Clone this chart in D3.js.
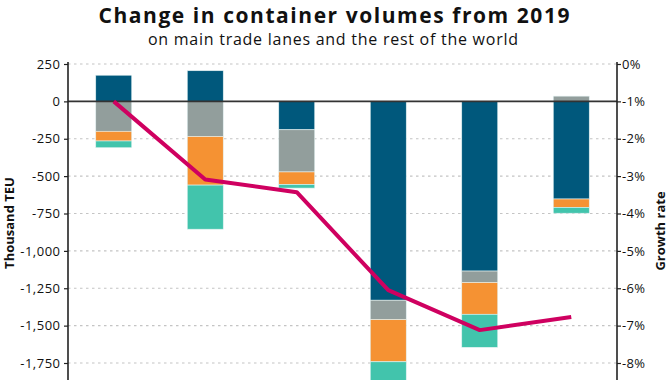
<!DOCTYPE html>
<html>
<head>
<meta charset="utf-8">
<script src="https://cdn.jsdelivr.net/npm/d3@7"></script>
<style>
  html, body { margin: 0; padding: 0; background: #fff; }
  svg { display: block; font-family: "Open Sans", sans-serif; }
</style>
</head>
<body>
<svg id="chart" width="670" height="380"></svg>
<script>
// ---- data ----
const categories = ["P1", "P2", "P3", "P4", "P5", "P6"];
const seriesNames = ["Rest of world", "Transpacific", "Asia-Europe", "Transatlantic"];
const seriesColors = ["#00587c", "#929e9c", "#f59233", "#42c4ac"];
const restOfWorld  = [175, 205, -190, -1330, -1135, -653];
const transpacific = [-200, -235, -282, -130, -77, 35];
const asiaEurope   = [-65, -325, -84, -282, -212, -56];
const transatlantic= [-45, -295, -24, -230, -221, -39];
const growthRate   = [-1.0, -3.09, -3.43, -6.05, -7.12, -6.77];
const leftTicks  = [250, 0, -250, -500, -750, -1000, -1250, -1500, -1750];
const leftTickLabels = ["250", "0", "-250", "-500", "-750", "-1,000", "-1,250", "-1,500", "-1,750"];
const rightTicks = [0, -1, -2, -3, -4, -5, -6, -7, -8];
const rightTickLabels = ["0%", "-1%", "-2%", "-3%", "-4%", "-5%", "-6%", "-7%", "-8%"];
const titleText = "Change in container volumes from 2019";
const subtitleText = "on main trade lanes and the rest of the world";
const leftAxisTitle = "Thousand TEU";
const rightAxisTitle = "Growth rate";

// ---- build ----
const svg = d3.select("#chart");
const plotLeft = 68, plotRight = 617, plotTop = 64, plotRef = 363;

const rows = categories.map((c, i) => ({
  cat: c,
  [seriesNames[0]]: restOfWorld[i],
  [seriesNames[1]]: transpacific[i],
  [seriesNames[2]]: asiaEurope[i],
  [seriesNames[3]]: transatlantic[i]
}));

const x = d3.scaleBand().domain(categories).range([plotLeft, plotRight])
  .paddingInner(0.6066).paddingOuter(0.3033);
const y = d3.scaleLinear().domain([-1750, 250]).range([plotRef, plotTop]);
const y2 = d3.scaleLinear().domain([-8, 0]).range([plotRef, plotTop]);

// gridlines
svg.append("g").selectAll("line").data(leftTicks.filter(d => d !== 0)).join("line")
  .attr("x1", plotLeft).attr("x2", plotRight)
  .attr("y1", d => y(d)).attr("y2", d => y(d))
  .attr("stroke", "#c4c4c4").attr("stroke-width", 1.2)
  .attr("stroke-dasharray", "2.5,3.5");

// stacked bars
const stack = d3.stack().keys(seriesNames).offset(d3.stackOffsetDiverging);
const stacked = stack(rows);
svg.append("g").selectAll("g").data(stacked).join("g")
  .attr("fill", (d, i) => seriesColors[i])
  .selectAll("rect").data(d => d).join("rect")
  .attr("x", d => x(d.data.cat))
  .attr("width", x.bandwidth())
  .attr("y", d => y(Math.max(d[0], d[1])))
  .attr("height", d => Math.abs(y(d[0]) - y(d[1])))
  .attr("stroke", "#e4f2f2").attr("stroke-width", 0.6);

// zero line
svg.append("line")
  .attr("x1", plotLeft).attr("x2", plotRight)
  .attr("y1", y(0)).attr("y2", y(0))
  .attr("stroke", "#333").attr("stroke-width", 1.6);

// growth line
const line = d3.line()
  .x((d, i) => x(categories[i]) + x.bandwidth() / 2)
  .y(d => y2(d));
svg.append("path").datum(growthRate)
  .attr("d", line)
  .attr("fill", "none")
  .attr("stroke", "#cf0060")
  .attr("stroke-width", 4)
  .attr("stroke-linejoin", "round");

// left axis
const yAxis = d3.axisLeft(y).tickValues(leftTicks)
  .tickFormat((d, i) => leftTickLabels[i]).tickSize(4).tickSizeOuter(0);
const gl = svg.append("g").attr("transform", `translate(${plotLeft},0)`).call(yAxis);
gl.select(".domain").remove();
gl.append("line").attr("x1", 0).attr("x2", 0).attr("y1", plotTop - 2).attr("y2", 420)
  .attr("stroke", "#222").attr("stroke-width", 1.6);
gl.selectAll(".tick line").attr("stroke", "#222").attr("stroke-width", 1.2);
gl.selectAll(".tick text").attr("font-family", "'Open Sans', sans-serif")
  .attr("font-size", 13).attr("letter-spacing", 0.5).attr("fill", "#111").attr("x", -7.5);

// right axis
const yAxis2 = d3.axisRight(y2).tickValues(rightTicks)
  .tickFormat((d, i) => rightTickLabels[i]).tickSize(4).tickSizeOuter(0);
const gr = svg.append("g").attr("transform", `translate(${plotRight},0)`).call(yAxis2);
gr.select(".domain").remove();
gr.append("line").attr("x1", 0).attr("x2", 0).attr("y1", plotTop - 2).attr("y2", 420)
  .attr("stroke", "#222").attr("stroke-width", 1.6);
gr.selectAll(".tick line").attr("stroke", "#222").attr("stroke-width", 1.2);
gr.selectAll(".tick text").attr("font-family", "'Open Sans', sans-serif")
  .attr("font-size", 13).attr("letter-spacing", 0.3).attr("fill", "#111").attr("x", 5);

// titles
svg.append("text").attr("x", 334).attr("y", 22.5)
  .attr("text-anchor", "middle").attr("font-weight", "bold")
  .attr("font-size", 21).attr("fill", "#111")
  .attr("textLength", 471).attr("lengthAdjust", "spacing").text(titleText);
svg.append("text").attr("x", 333).attr("y", 45)
  .attr("text-anchor", "middle")
  .attr("font-size", 16).attr("fill", "#111")
  .attr("textLength", 370).attr("lengthAdjust", "spacing").text(subtitleText);

svg.append("text")
  .attr("transform", `translate(14,223) rotate(-90)`)
  .attr("text-anchor", "middle").attr("font-weight", "bold")
  .attr("font-size", 13).attr("fill", "#111").text(leftAxisTitle);
svg.append("text")
  .attr("transform", `translate(665,231) rotate(-90)`)
  .attr("text-anchor", "middle").attr("font-weight", "bold")
  .attr("font-size", 13).attr("fill", "#111").text(rightAxisTitle);
</script>
</body>
</html>
